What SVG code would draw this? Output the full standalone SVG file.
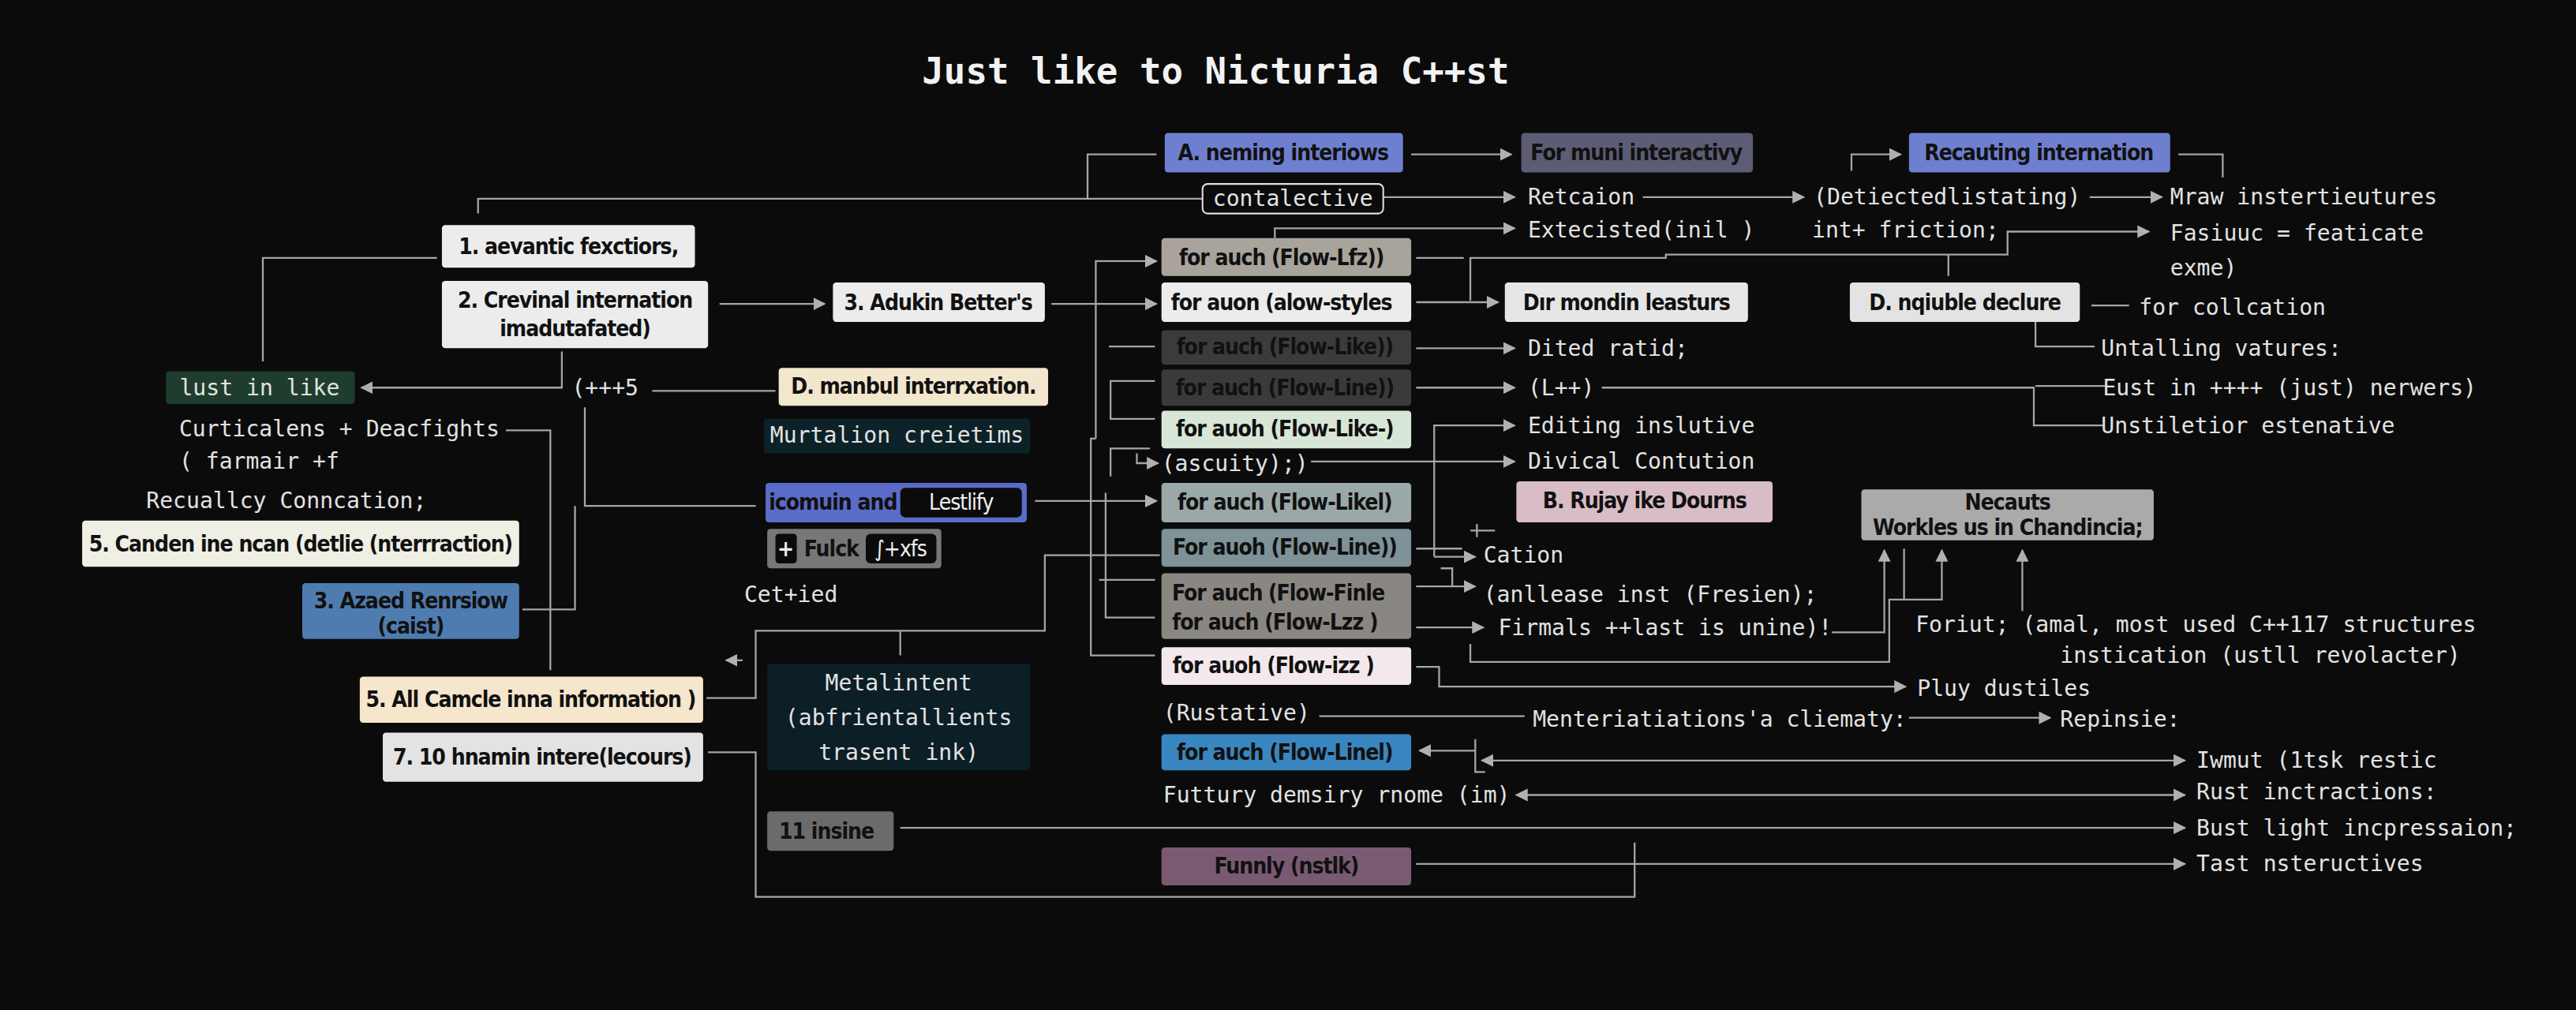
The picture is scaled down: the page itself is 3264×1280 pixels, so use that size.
<svg xmlns="http://www.w3.org/2000/svg" width="3264" height="1280" viewBox="0 0 3264 1280">
<style>
.b{font-family:"DejaVu Sans Condensed","Liberation Sans Narrow","Liberation Sans",sans-serif;font-stretch:condensed;font-weight:bold;font-size:13.5px;letter-spacing:-0.5px;fill:#111;text-anchor:middle;dominant-baseline:central}
.bl{fill:#eee}
.m{font-family:"DejaVu Sans Mono","Liberation Mono",monospace;font-size:13.5px;fill:#e2e2e2;dominant-baseline:central}
.mc{text-anchor:middle}
.l{fill:none;stroke:#a5a5a5;stroke-width:1.1}
.a{marker-end:url(#ah)}
.as{marker-start:url(#ahs)}
</style>
<defs>
<marker id="ah" viewBox="0 0 10 10" refX="9" refY="5" markerWidth="7" markerHeight="7" orient="auto"><path d="M0,0L10,5L0,10z" fill="#b0b0b0"/></marker>
<marker id="ahs" viewBox="0 0 10 10" refX="1" refY="5" markerWidth="7" markerHeight="7" orient="auto"><path d="M10,0L0,5L10,10z" fill="#b0b0b0"/></marker>
</defs>
<rect width="3264" height="1280" fill="#0b0b0b"/>
<g transform="scale(2.0816)">
<text x="740" y="43" style="font-family:'DejaVu Sans Mono','Liberation Mono',monospace;font-weight:bold;font-size:22px;fill:#f2f2f2;text-anchor:middle;dominant-baseline:central">Just like to Nicturia C++st</text>

<g id="connectors">
<path class="l" d="M291,130V121H732M662,121V94H704"/>
<path class="l a" d="M842,120H922"/>
<path class="l a" d="M859,94H920"/>
<path class="l a" d="M1000,120H1098"/>
<path class="l a" d="M1272,120H1316"/>
<path class="l a" d="M1127,104V94H1157"/>
<path class="l" d="M1326,94H1353V108"/>
<path class="l a" d="M776,145V139H922"/>
<path class="l" d="M862,157H891"/>
<path class="l a" d="M895,183V157H1014V155H1222V141H1308"/>
<path class="l" d="M1186,155V168"/>
<path class="l a" d="M862,184H912"/>
<path class="l a" d="M862,212H922"/>
<path class="l a" d="M862,236H922"/>
<path class="l" d="M975,236H1238V259H1280M1239,235H1282"/>
<path class="l" d="M1273,186H1296"/>
<path class="l" d="M1239,196V211H1275"/>
<path class="l a" d="M873,339V259H922"/>
<path class="l a" d="M862,334H890M873,339H898"/>
<path class="l" d="M895,323H910M899,319V327"/>
<path class="l a" d="M798,281H922"/>
<path class="l a" d="M877,346H884V357M862,357H898"/>
<path class="l a" d="M862,382H903"/>
<path class="l a" d="M1115,385H1147V335"/>
<path class="l a" d="M895,392V403H1150V365H1182V335"/>
<path class="l" d="M1159,365V334"/>
<path class="l a" d="M1231,372V335"/>
<path class="l a" d="M862,406H876V418H1160"/>
<path class="l" d="M803,436H928"/>
<path class="l a" d="M1162,437H1248"/>
<path class="l a" d="M898,457H864"/>
<path class="l" d="M898,450V470H904"/>
<path class="l a as" d="M902,463H1330"/>
<path class="l a as" d="M923,484H1330"/>
<path class="l a" d="M548,504H1330"/>
<path class="l a" d="M862,526H1330"/>
<path class="l" d="M995,513V546H460V458H431"/>
<path class="l" d="M430,425H460V384H636V338H706M548,384V399"/>
<path class="l a" d="M452,402H442"/>
<path class="l" d="M356,248V308H460M350,308V371H318"/>
<path class="l" d="M308,262H335V408"/>
<path class="l" d="M397,238H472"/>
<path class="l a" d="M342,214V236H220"/>
<path class="l" d="M266,157H160V220"/>
<path class="l a" d="M438,185H502"/>
<path class="l a" d="M640,185H704"/>
<path class="l a" d="M667,267V159H704"/>
<path class="l" d="M675,211H703"/>
<path class="l" d="M703,232H676V255H703"/>
<path class="l a" d="M676,290V273H700M692,276V282H705"/>
<path class="l a" d="M630,305H704"/>
<path class="l" d="M667,267H664V399H703M673,300V376H703M669,353H703"/>
</g>

<g id="title-boxes">
<g id="nA"><rect x="709" y="81" width="145" height="24" rx="2" fill="#6f7fd0"/><text class="b" x="781" y="93">A. neming interiows</text></g>
<g id="nFormuni"><rect x="926" y="81" width="141" height="24" rx="2" fill="#5c5c74"/><text class="b" x="996" y="93">For muni interactivy</text></g>
<g id="nRecauting"><rect x="1162" y="81" width="159" height="24" rx="2" fill="#6f7fd0"/><text class="b" x="1241" y="93">Recauting internation</text></g>
<g id="nContal"><rect x="732" y="112" width="110" height="18" rx="3" fill="#0b0b0b" stroke="#ddd" stroke-width="1"/><text class="m mc" x="787" y="121">contalective</text></g>
</g>

<g id="n1"><rect x="269" y="137" width="154" height="26" rx="2" fill="#ececec"/><text class="b" x="346" y="150">1. aevantic fexctiors,</text></g>
<g id="n2"><rect x="269" y="171" width="162" height="41" rx="2" fill="#ececec"/><text class="b" x="350" y="183">2. Crevinal internation</text><text class="b" x="350" y="200">imadutafated)</text></g>
<g id="n3"><rect x="507" y="172" width="129" height="24" rx="2" fill="#ececec"/><text class="b" x="571" y="184">3. Adukin Better's</text></g>
<g id="nLust"><rect x="101" y="226" width="115" height="20" rx="2" fill="#1f3d2e"/><text class="m mc" x="158" y="236">lust in like</text></g>
<g id="nDmanbul"><rect x="474" y="224" width="164" height="23" rx="2" fill="#f2e6cc"/><text class="b" x="556" y="235">D. manbul interrxation.</text></g>
<g id="nMurtalion"><rect x="465" y="255" width="162" height="21" rx="2" fill="#0d2228"/><text class="m mc" x="546" y="265">Murtalion creietims</text></g>
<g id="nIcomuin"><rect x="466" y="294" width="159" height="24" rx="2" fill="#5a6cc8"/><rect x="548" y="297" width="74" height="18" rx="3" fill="#0b0b0b"/><text class="b" x="507" y="306">icomuin and</text><text class="b bl" x="585" y="306" style="font-weight:normal">Lestlify</text></g>
<g id="nFulck"><rect x="467" y="322" width="106" height="24" rx="2" fill="#777"/><rect x="472" y="325" width="13" height="18" rx="2" fill="#0b0b0b"/><rect x="527" y="325" width="43" height="18" rx="3" fill="#0b0b0b"/><text class="b bl" x="478" y="334">+</text><text class="b" x="506" y="334">Fulck</text><text class="b bl" x="548" y="334" style="font-weight:normal">∫+xfs</text></g>
<g id="n5Canden"><rect x="50" y="317" width="266" height="28" rx="2" fill="#efefe4"/><text class="b" x="183" y="331">5. Canden ine ncan (detlie (nterrraction)</text></g>
<g id="n3Azaed"><rect x="184" y="355" width="132" height="34" rx="2" fill="#4f7cb0"/><text class="b" x="250" y="366">3. Azaed Renrsiow</text><text class="b" x="250" y="381">(caist)</text></g>
<g id="n5All"><rect x="219" y="412" width="209" height="28" rx="2" fill="#f5e6cc"/><text class="b" x="323" y="426">5. All Camcle inna information )</text></g>
<g id="n7"><rect x="233" y="446" width="195" height="30" rx="2" fill="#e3e3e3"/><text class="b" x="330" y="461">7. 10 hnamin intere(lecours)</text></g>
<g id="nMetal"><rect x="467" y="404" width="160" height="65" rx="2" fill="#0c1e26"/><text class="m mc" x="547" y="416">Metalintent</text><text class="m mc" x="547" y="437">(abfrientallients</text><text class="m mc" x="547" y="458">trasent ink)</text></g>
<g id="n11"><rect x="467" y="494" width="77" height="24" rx="2" fill="#6b6b6b"/><text class="b" x="503" y="506">11 insine</text></g>

<g id="flow">
<g id="f1"><rect x="707" y="145" width="152" height="23" rx="2" fill="#a8a49c"/><text class="b" x="780" y="157">for auch (Flow-Lfz))</text></g>
<g id="f2"><rect x="707" y="172" width="152" height="24" rx="2" fill="#ececec"/><text class="b" x="780" y="184">for auon (alow-styles</text></g>
<g id="f3"><rect x="707" y="201" width="152" height="21" rx="2" fill="#3b3b3b"/><text class="b" x="782" y="211">for auch (Flow-Like))</text></g>
<g id="f4"><rect x="707" y="225" width="152" height="22" rx="2" fill="#3a3a3a"/><text class="b" x="782" y="236">for auch (Flow-Line))</text></g>
<g id="f5"><rect x="707" y="250" width="152" height="23" rx="2" fill="#d7e6d7"/><text class="b" x="782" y="261">for auoh (Flow-Like-)</text></g>
<text class="m" x="707" y="282">(ascuity);)</text>
<g id="f6"><rect x="707" y="294" width="152" height="24" rx="2" fill="#9aa8a8"/><text class="b" x="782" y="306">for auch (Flow-Likel)</text></g>
<g id="f7"><rect x="707" y="322" width="152" height="23" rx="2" fill="#7e9298"/><text class="b" x="782" y="333">For auoh (Flow-Line))</text></g>
<g id="f8"><rect x="707" y="349" width="152" height="40" rx="2" fill="#8a8782"/><text class="b" x="778" y="361">For auch (Flow-Finle</text><text class="b" x="776" y="379">for auch (Flow-Lzz )</text></g>
<g id="f9"><rect x="707" y="394" width="152" height="23" rx="2" fill="#f3e9ec"/><text class="b" x="775" y="405">for auoh (Flow-izz )</text></g>
<text class="m" x="708" y="434">(Rustative)</text>
<g id="f10"><rect x="707" y="447" width="152" height="22" rx="2" fill="#3a86c0"/><text class="b" x="782" y="458">for auch (Flow-Linel)</text></g>
<text class="m" x="708" y="484">Futtury demsiry rnome (im)</text>
<g id="f11"><rect x="707" y="516" width="152" height="23" rx="2" fill="#7a5a72"/><text class="b" x="783" y="527">Funnly (nstlk)</text></g>
</g>

<g id="nDir"><rect x="916" y="172" width="148" height="24" rx="2" fill="#e6e6e6"/><text class="b" x="990" y="184">Dır mondin leasturs</text></g>
<g id="nB"><rect x="923" y="293" width="156" height="25" rx="2" fill="#d8bcc6"/><text class="b" x="1001" y="305">B. Rujay ike Dourns</text></g>
<g id="nDnq"><rect x="1126" y="172" width="140" height="24" rx="2" fill="#e3e3e3"/><text class="b" x="1196" y="184">D. nqiuble declure</text></g>
<g id="nNecauts"><rect x="1133" y="298" width="178" height="31" rx="2" fill="#aaaaaa"/><text class="b" x="1222" y="306">Necauts</text><text class="b" x="1222" y="321">Workles us in Chandincia;</text></g>

<g id="labels">
<text class="m" x="930" y="120">Retcaion</text>
<text class="m" x="930" y="140">Extecisted(inil )</text>
<text class="m" x="930" y="212">Dited ratid;</text>
<text class="m" x="930" y="236">(L++)</text>
<text class="m" x="930" y="259">Editing inslutive</text>
<text class="m" x="930" y="281">Divical Contution</text>
<text class="m" x="903" y="338">Cation</text>
<text class="m" x="903" y="362">(anllease inst (Fresien);</text>
<text class="m" x="912" y="382">Firmals ++last is unine)!</text>
<text class="m" x="933" y="438">Menteriatiations'a cliematy:</text>
<text class="m" x="1167" y="419">Pluy dustiles</text>
<text class="m" x="1254" y="438">Repinsie:</text>
<text class="m" x="1104" y="120">(Detiectedlistating)</text>
<text class="m" x="1103" y="140">int+ friction;</text>
<text class="m" x="1321" y="120">Mraw instertieutures</text>
<text class="m" x="1321" y="142">Fasiuuc = featicate</text>
<text class="m" x="1321" y="163">exme)</text>
<text class="m" x="1302" y="187">for collcation</text>
<text class="m" x="1279" y="212">Untalling vatures:</text>
<text class="m" x="1280" y="236">Eust in ++++ (just) nerwers)</text>
<text class="m" x="1279" y="259">Unstiletior estenative</text>
<text class="m" x="1166" y="380">Foriut; (amal, most used C++117 structures</text>
<text class="m" x="1254" y="399">instication (ustll revolacter)</text>
<text class="m" x="1337" y="463">Iwmut (1tsk restic</text>
<text class="m" x="1337" y="482">Rust inctractions:</text>
<text class="m" x="1337" y="504">Bust light incpressaion;</text>
<text class="m" x="1337" y="526">Tast nsteructives</text>
<text class="m" x="348" y="236">(+++5</text>
<text class="m" x="109" y="261">Curticalens + Deacfights</text>
<text class="m" x="109" y="281">( farmair +f</text>
<text class="m" x="89" y="305">Recuallcy Conncation;</text>
<text class="m" x="453" y="362">Cet+ied</text>
</g>
</g>
</svg>
